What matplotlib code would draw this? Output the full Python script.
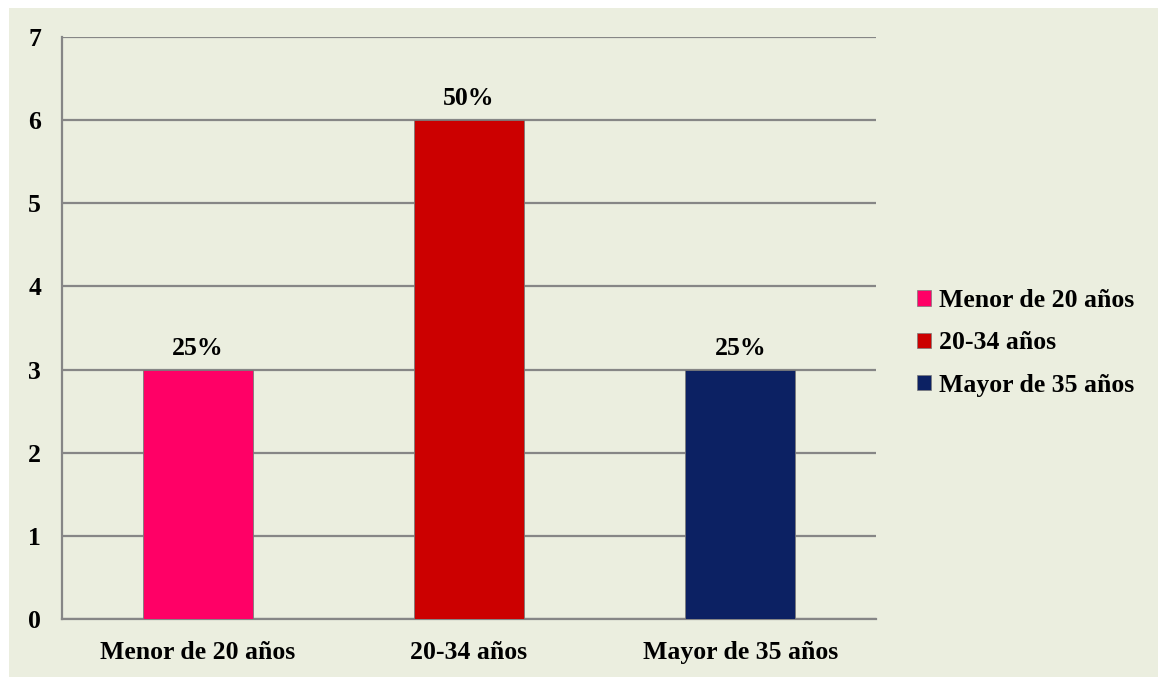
import matplotlib.pyplot as plt
from matplotlib.patches import Rectangle, Patch

# Data
categories = ['Menor de 20 años', '20-34 años', 'Mayor de 35 años']
counts = [3, 6, 3]
percent_labels = ['25%', '50%', '25%']
colors = ['#FF0066', '#CC0000', '#0C2163']

plt.rcParams['font.family'] = ['Liberation Serif', 'DejaVu Serif']
plt.rcParams['font.weight'] = 'bold'
fs = 18.5

fig = plt.figure(figsize=(11.58, 6.77), dpi=100)
fig.patch.set_facecolor('white')
# beige panel behind the chart (slight white margin top/left)
bg = Rectangle((9 / 1158, 0), 1, 1 - 8 / 677, transform=fig.transFigure,
               facecolor='#EBEEDF', edgecolor='none', zorder=-10)
fig.add_artist(bg)

ax = fig.add_axes([62 / 1158, 1 - 619 / 677, (876 - 62) / 1158, (619 - 37) / 677])
ax.set_facecolor('none')
ax.set_zorder(2)

x = range(len(categories))
bars = ax.bar(x, counts, width=0.405, color=colors, edgecolor='#7a7a7a', linewidth=0.6, zorder=3)

for b, lab in zip(bars, percent_labels):
    ax.annotate(lab, (b.get_x() + b.get_width() / 2, b.get_height()),
                xytext=(0, 7), textcoords='offset points', ha='center', va='bottom',
                fontsize=fs, fontweight='bold')

ax.set_xlim(-0.5, 2.5)
ax.set_ylim(0, 7)
ax.set_yticks(range(0, 8))
ax.yaxis.grid(True, color='#868686', linewidth=1.6, zorder=0)
ax.set_axisbelow(True)

for s in ['top', 'right']:
    ax.spines[s].set_visible(False)
for s in ['left', 'bottom']:
    ax.spines[s].set_color('#868686')
    ax.spines[s].set_linewidth(1.6)

ax.set_xticks(list(x))
ax.set_xticklabels(categories)
ax.tick_params(axis='both', length=0, labelsize=fs)
ax.tick_params(axis='y', pad=15)
ax.tick_params(axis='x', pad=16)

handles = [Patch(facecolor=c, edgecolor='#7a7a7a', linewidth=0.5) for c in colors]
leg = fig.legend(handles, categories, loc='center left', bbox_to_anchor=(894 / 1158, 1 - 343 / 677),
                 frameon=False, fontsize=fs, handlelength=0.55, handleheight=0.55,
                 handletextpad=0.3, labelspacing=0.75)
leg.set_zorder(3)

fig.savefig('out.png', dpi=100)
